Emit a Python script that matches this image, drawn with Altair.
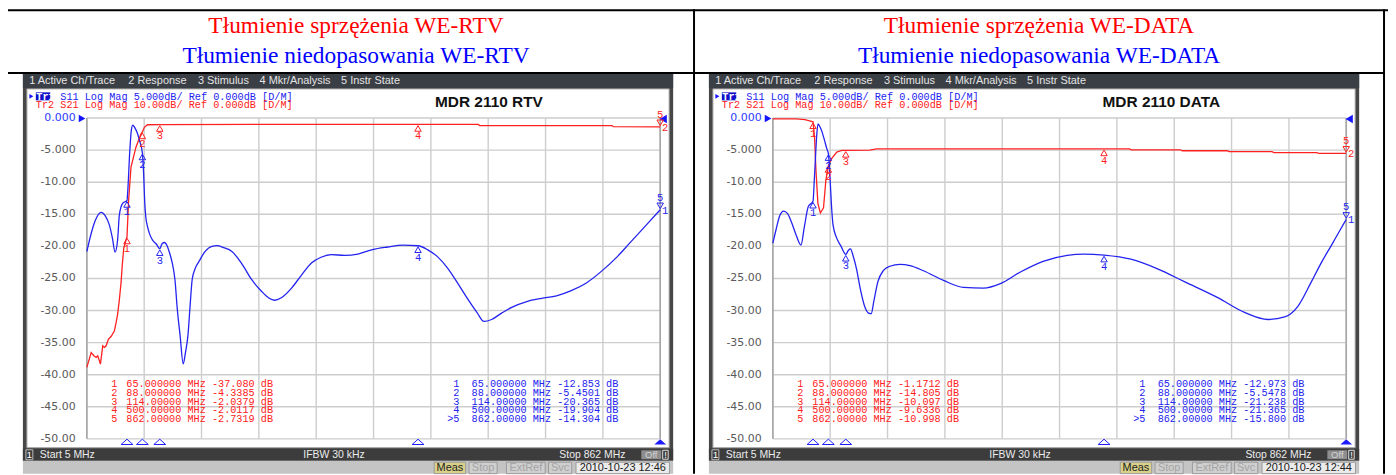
import altair as alt
import pandas as pd

# ---------------- chart values ----------------
marker_freq = [65, 88, 114, 500, 862]
red_marker_ids = ["1", "2", "3", "4", "5"]
blue_marker_ids = ["1", "2", "3", "4", ">5"]

rtv_s21_markers = [-37.080, -4.3385, -2.0379, -2.0117, -2.7319]
rtv_s11_markers = [-12.853, -5.4501, -20.365, -19.904, -14.304]
data_s21_markers = [-1.1712, -14.805, -10.097, -9.6336, -10.998]
data_s11_markers = [-12.973, -5.5478, -21.238, -21.365, -15.800]

# S11 (blue, 5 dB/div) of the RTV path: (MHz, dB)
rtv_s11 = [(5, -20.8), (12, -17.8), (17.9, -15.9), (26.4, -14.7), (32.8, -15.3), (38.7, -16.7),
           (43.2, -18.7), (47.2, -20.9), (51, -19.0), (53.6, -15.1), (58.5, -13.3), (65, -12.853),
           (66.2, -11.3), (69.2, -5.1), (71.4, -2.0), (73.6, -1.1), (76.6, -1.5), (80.3, -2.3),
           (84, -3.6), (88, -5.4501), (89.7, -8.2), (91.7, -13.5), (93, -15.3), (95.6, -16.9),
           (98.9, -18.1), (103, -19.0), (108.5, -19.6), (114, -20.365), (117.4, -19.6),
           (121.4, -19.4), (124.9, -19.9), (128.6, -21.0), (132.7, -22.6), (136.7, -25.2),
           (140.2, -29.8), (144.2, -33.7), (149.1, -38.3), (152.5, -36.5), (156, -34.0),
           (159.5, -29.0), (162.4, -25.2), (166.4, -23.6), (172.4, -22.4), (181, -20.9),
           (192, -20.0), (199.6, -19.9), (209.5, -20.2), (221.8, -20.8), (236, -22.6),
           (251.5, -25.2), (266, -27.0), (276.4, -28.0), (285.3, -28.4), (295.7, -28.0),
           (311, -26.5), (325, -24.6), (340.7, -22.6), (355, -21.7), (370.4, -21.3),
           (390.3, -21.4), (410, -21.2), (432, -20.5), (454.6, -20.1), (477, -19.8),
           (500, -19.904), (514, -20.5), (529, -21.6), (543.6, -23.3), (558.5, -25.6),
           (573, -28.0), (588, -30.3), (598.6, -31.7), (610, -31.4), (625, -30.4), (640, -29.5),
           (662.5, -28.6), (684.8, -28.1), (707, -27.7), (729, -26.9), (751.6, -25.7),
           (774, -23.9), (796, -21.8), (818, -19.3), (841, -16.7), (862, -14.304)]

# S21 (red, 10 dB/div) of the RTV path
rtv_s21 = [(5, -77.7), (11.5, -73.1), (15.4, -74.1), (19, -74.6), (21.3, -74.1), (25.3, -76.7),
           (28.8, -71.0), (31.3, -71.5), (33.8, -71.0), (37.2, -69.0), (41.2, -68.1),
           (46.1, -66.4), (48.7, -63.8), (51, -61.2), (53.6, -56.6), (56.1, -51.4), (58, -45.7),
           (60.2, -40.5), (65, -37.08), (67.4, -25.8), (71, -15.3), (78.4, -9.1), (85.8, -5.0),
           (88, -4.3385), (91, -2.9), (95.6, -2.1), (114, -2.0379), (300, -2.0), (500, -2.0117),
           (590, -2.0), (592, -2.35), (790, -2.35), (792, -2.7), (862, -2.7319)]

# S11 (blue) of the DATA path
data_s11 = [(5, -19.5), (10, -17.3), (15, -15.3), (21, -14.5), (27, -14.9), (33, -16.3),
            (40, -18.3), (47, -19.8), (52, -17.0), (58, -13.8), (65, -12.973), (67, -9.5),
            (69, -5.5), (70.5, -2.8), (72.4, -0.9), (74.5, -1.2), (78, -2.0), (82, -3.4),
            (85.7, -4.8), (88, -5.5478), (90.6, -9.7), (93, -14.3), (95, -16.7), (100, -18.6),
            (107, -20.0), (114, -21.238), (118, -20.6), (121, -20.4), (125, -21.5), (130, -23.5),
            (136, -26.8), (142, -29.3), (148, -30.4), (152, -30.5), (156, -28.5), (162, -25.5),
            (170, -23.8), (180, -23.1), (195, -22.8), (210, -23.0), (230, -23.8), (260, -25.3),
            (290, -26.4), (320, -26.5), (345, -25.8), (375, -24.0), (410, -22.3), (445, -21.4),
            (470, -21.2), (500, -21.365), (540, -22.0), (580, -23.5), (620, -25.5), (670, -28.0),
            (710, -30.3), (745, -31.4), (770, -31.0), (790, -29.3), (810, -25.5), (825, -22.5),
            (840, -19.8), (852, -17.6), (862, -15.8)]

# S21 (red) of the DATA path
data_s21 = [(5, -0.3), (40, -0.3), (53, -0.5), (60, -0.9), (65, -1.1712), (67.3, -6.0),
            (69.4, -16.3), (72.3, -26.6), (76, -29.6), (80.7, -28.0), (84.2, -19.4),
            (88, -14.805), (93.1, -12.6), (100.5, -10.6), (108, -10.1), (114, -10.097),
            (150, -10.0), (160, -9.6), (538, -9.6), (541, -9.9), (614, -9.9), (617, -10.2),
            (684, -10.2), (687, -10.5), (751, -10.5), (754, -10.8), (818, -10.8), (821, -11.0),
            (862, -10.998)]

s11_ticks = [0, -5, -10, -15, -20, -25, -30, -35, -40, -45, -50]
grid_freqs = [5 + k * 85.7 for k in range(11)]

cell_red_titles = ["Tłumienie sprzężenia WE-RTV", "Tłumienie sprzężenia WE-DATA"]
cell_blue_titles = ["Tłumienie niedopasowania WE-RTV", "Tłumienie niedopasowania WE-DATA"]
screen_titles = ["MDR 2110 RTV", "MDR 2110 DATA"]
screen_dates = ["2010-10-23 12:46", "2010-10-23 12:44"]
menu_items = ["1 Active Ch/Trace", "2 Response", "3 Stimulus", "4 Mkr/Analysis", "5 Instr State"]

# ---------------- layout helpers ----------------
OX, OY = 8, 8          # page margin
W, H = 1388, 467
one = pd.DataFrame({"k": [0]})
BLUE = "#2323f0"
RED = "#ff2020"
MONO = "Liberation Mono"
SANS = "DejaVu Sans"
UI = "Liberation Sans"


def px(x):
    return x - OX


def py(y):
    return y - OY


def rect(x1, y1, x2, y2, fill, stroke=None, sw=1.0):
    props = {"fill": fill, "strokeWidth": 0}
    if stroke:
        props.update(stroke=stroke, strokeWidth=sw)
    return alt.Chart(one).mark_rect(**props).encode(
        x=alt.value(px(x1)), x2=alt.value(px(x2)), y=alt.value(py(y1)), y2=alt.value(py(y2)))


def label(s, x, y, size=10, color="#000000", font=SANS, align="left", weight="normal",
          baseline="middle"):
    return alt.Chart(one).mark_text(text=s, fontSize=size, color=color, font=font, align=align,
                                    baseline=baseline, fontWeight=weight).encode(
        x=alt.value(px(x)), y=alt.value(py(y)))


def sym(shape, x, y, size, color, filled=True):
    return alt.Chart(one).mark_point(shape=shape, size=size, filled=filled, color=color,
                                     opacity=1, strokeWidth=1).encode(
        x=alt.value(px(x)), y=alt.value(py(y)))


def fmt_freq(f):
    return f"{f:.{8 - len(str(int(f)))}f}"


def fmt_db(v):
    return f"{v:.{5 - len(str(int(abs(v))))}f}"


def fmt_tick(v):
    return f"{v:.{4 - len(str(int(abs(v))))}f}"


layers = []

# ---------------- document table ----------------
layers.append(rect(0, 8, 1396, 10, "#000000"))
layers.append(rect(4, 71, 1393, 73, "#000000"))
for xv in (4, 697, 1391):
    layers.append(rect(xv, 8, xv + 2, 475, "#000000"))
for i, cx in enumerate((358, 1045)):
    layers.append(label(cell_red_titles[i], cx, 31.5, 23.5, "#ff0000", "Liberation Serif",
                        "center", baseline="alphabetic"))
    layers.append(label(cell_blue_titles[i], cx, 61.5, 23.5, "#0000ff", "Liberation Serif",
                        "center", baseline="alphabetic"))


def panel(dx, s11, s21, mk11, mk21, title, title_cx, date):
    L = []
    xs = alt.Scale(domain=[5, 862], range=[px(87.3 + dx), px(664 + dx)], nice=False, zero=False)
    y11 = alt.Scale(domain=[-50, 0], range=[py(440), py(117.3)], nice=False, zero=False)
    y21 = alt.Scale(domain=[-100, 0], range=[py(440), py(117.3)], nice=False, zero=False)
    X = alt.X("f:Q", scale=xs, axis=None)

    # instrument frame
    L.append(rect(23 + dx, 73, 677 + dx, 462, "#474747"))
    L.append(rect(23 + dx, 73, 677 + dx, 87, "#3a3e45"))
    L.append(rect(27 + dx, 88, 673 + dx, 449, "#ffffff", "#9c9c9c", 1))
    L.append(rect(23 + dx, 450, 677 + dx, 462, "#3c3c3c"))
    L.append(rect(23 + dx, 462, 677 + dx, 475, "#c4c4c4"))
    menu_x = [29.3, 129, 199, 261, 343]
    for mx, mt in zip(menu_x, menu_items):
        L.append(label(mt, mx + dx, 80.5, 11, "#e4e4e4", UI))

    # grid
    gx = pd.DataFrame({"f": grid_freqs})
    L.append(alt.Chart(gx).mark_rule(color="#cdcdcd", strokeWidth=1.4).encode(
        x=X, y=alt.value(py(117.3)), y2=alt.value(py(440))))
    gy = pd.DataFrame({"db": s11_ticks})
    L.append(alt.Chart(gy).mark_rule(color="#cdcdcd", strokeWidth=1.4).encode(
        y=alt.Y("db:Q", scale=y11, axis=None), x=alt.value(px(87.3 + dx)), x2=alt.value(px(664 + dx))))
    edge = pd.DataFrame({"f": [5, 862]})
    L.append(alt.Chart(edge).mark_rule(color="#a6a6a6", strokeWidth=1.6).encode(
        x=X, y=alt.value(py(117.3)), y2=alt.value(py(440))))

    # y tick labels
    tl = pd.DataFrame({"db": s11_ticks, "t": [fmt_tick(v) for v in s11_ticks]})
    L.append(alt.Chart(tl[tl.db < 0]).mark_text(align="right", baseline="middle", fontSize=11,
                                                font=SANS, color="#5a5a5a").encode(
        y=alt.Y("db:Q", scale=y11, axis=None), x=alt.value(px(76 + dx)), text="t:N"))
    L.append(alt.Chart(tl[tl.db == 0]).mark_text(align="right", baseline="middle", fontSize=11,
                                                 font=SANS, color="#2a3cff").encode(
        y=alt.Y("db:Q", scale=y11, axis=None), x=alt.value(px(76 + dx)), text="t:N"))
    L.append(sym("triangle-right", 82.5 + dx, 117.8, 60, "#1414ff"))
    L.append(sym("triangle-left", 667 + dx, 118.3, 70, "#1414ff"))

    # trace header lines
    L.append(sym("triangle-right", 31.5 + dx, 95.5, 22, "#1414ff"))
    L.append(rect(36 + dx, 91.5, 50.5 + dx, 99.5, "#1010c8"))
    L.append(label("Tr1", 36.5 + dx, 95.8, 10.25, "#ffffff", MONO, weight="bold"))
    L.append(label("S11 Log Mag 5.000dB/ Ref 0.000dB [D/M]", 36 + 4 * 6.15 + dx, 95.8, 10.25,
                   BLUE, MONO))
    L.append(label("Tr2 S21 Log Mag 10.00dB/ Ref 0.000dB [D/M]", 36 + dx, 104.5, 10.25, RED, MONO))
    L.append(label(title, title_cx, 101.7, 15.5, "#111111", "Liberation Sans", "center", "bold"))

    # traces
    d21 = pd.DataFrame(s21, columns=["f", "db"])
    d11 = pd.DataFrame(s11, columns=["f", "db"])
    L.append(alt.Chart(d21).mark_line(color=RED, strokeWidth=1.3).encode(
        x=X, y=alt.Y("db:Q", scale=y21, axis=None)))
    L.append(alt.Chart(d11).mark_line(color=BLUE, strokeWidth=1.3, interpolate="monotone").encode(
        x=X, y=alt.Y("db:Q", scale=y11, axis=None)))

    # markers on traces
    for vals, ys, col, tr in ((mk21, y21, RED, "2"), (mk11, y11, BLUE, "1")):
        m = pd.DataFrame({"f": marker_freq, "db": vals, "n": red_marker_ids})
        Y = alt.Y("db:Q", scale=ys, axis=None)
        m14 = m.iloc[:4]
        m5 = m.iloc[4:]
        L.append(alt.Chart(m14).mark_point(shape="triangle-up", size=42, filled=False, color=col,
                                           opacity=1, strokeWidth=1, yOffset=4).encode(x=X, y=Y))
        L.append(alt.Chart(m14).mark_text(fontSize=10.5, font=MONO, color=col, dy=12).encode(
            x=X, y=Y, text="n:N"))
        L.append(alt.Chart(m5).mark_point(shape="triangle-down", size=42, filled=False, color=col,
                                          opacity=1, strokeWidth=1, yOffset=-4).encode(x=X, y=Y))
        L.append(alt.Chart(m5).mark_text(fontSize=10.5, font=MONO, color=col, dy=-12).encode(
            x=X, y=Y, text="n:N"))
        L.append(alt.Chart(m5).mark_text(fontSize=10.5, font=MONO, color=col, dx=5, dy=1).encode(
            x=X, y=Y, text=alt.value(tr)))

    # marker position indicators along the bottom
    bm = pd.DataFrame({"f": marker_freq})
    shp = "M-1,0.45L0,-0.45L1,0.45Z"
    L.append(alt.Chart(bm.iloc[:4]).mark_point(shape=shp, size=140, filled=False, color="#1c1cff",
                                               opacity=1, strokeWidth=1).encode(
        x=X, y=alt.value(py(443))))
    L.append(alt.Chart(bm.iloc[4:]).mark_point(shape=shp, size=140, filled=True, color="#1c1cff",
                                               opacity=1).encode(x=X, y=alt.value(py(443))))

    # marker tables
    rows = alt.Scale(domain=[1, 5], range=[py(385.3), py(419.7)], nice=False, zero=False)
    for vals, col, ids, num_x, txt_x in ((mk21, RED, red_marker_ids, 118, 127),
                                          (mk11, BLUE, blue_marker_ids, 462, 474.3)):
        t = pd.DataFrame({
            "row": [1, 2, 3, 4, 5],
            "n": ids,
            "line": [f"{fmt_freq(f)} MHz {fmt_db(v)} dB" for f, v in zip(marker_freq, vals)],
        })
        R = alt.Y("row:Q", scale=rows, axis=None)
        L.append(alt.Chart(t).mark_text(align="right", baseline="middle", fontSize=10.25,
                                        font=MONO, color=col).encode(
            y=R, x=alt.value(px(num_x + dx)), text="n:N"))
        L.append(alt.Chart(t).mark_text(align="left", baseline="middle", fontSize=10.25,
                                        font=MONO, color=col).encode(
            y=R, x=alt.value(px(txt_x + dx)), text="line:N"))

    # status bar
    L.append(rect(26 + dx, 451, 33 + dx, 461, "#3c3c3c", "#bdbdbd", 1))
    L.append(label("1", 29.5 + dx, 456, 10, "#ffffff", UI, "center"))
    L.append(label("Start 5 MHz", 40 + dx, 456.3, 10.5, "#ececec", UI))
    L.append(label("IFBW 30 kHz", 305 + dx, 456.3, 10.5, "#ececec", UI))
    L.append(label("Stop 862 MHz", 629 + dx, 456.3, 10.5, "#ececec", UI, "right"))
    L.append(rect(645 + dx, 451.5, 665 + dx, 460.5, "#8e8e8e"))
    L.append(label("Off", 655 + dx, 456.3, 9.5, "#d4d4d4", UI, "center"))
    L.append(rect(666.5 + dx, 451.5, 672 + dx, 460.5, "#3c3c3c", "#e0e0e0", 1))
    L.append(label("!", 669.3 + dx, 456.3, 9.5, "#ffffff", UI, "center"))

    # bottom state band
    boxes = [("Meas", 436.7, 468.3, "#d9d18a", "#202020"),
             ("Stop", 471.7, 500, "#cfcfcf", "#a4a4a4"),
             ("ExtRef", 509.3, 548.3, "#cfcfcf", "#a4a4a4"),
             ("Svc", 551.7, 575, "#cfcfcf", "#a4a4a4"),
             (date, 579.3, 673.3, "#ebebeb", "#202020")]
    for txt, x1, x2, fill, tc in boxes:
        L.append(rect(x1 + dx, 463.5, x2 + dx, 475, fill, "#9a9a9a", 1))
        L.append(label(txt, (x1 + x2) / 2 + dx, 469.8, 11, tc, UI, "center"))
    return L


layers += panel(0, rtv_s11, rtv_s21, rtv_s11_markers, rtv_s21_markers, screen_titles[0], 491.7,
                screen_dates[0])
layers += panel(690, data_s11, data_s21, data_s11_markers, data_s21_markers, screen_titles[1],
                1168, screen_dates[1])

chart = alt.layer(*layers).resolve_scale(x="independent", y="independent").properties(
    width=W, height=H, autosize=alt.AutoSizeParams(type="none"), padding=0
).configure_view(stroke=None)

chart.save("out.html", embed_options={"renderer": "svg", "actions": False})
